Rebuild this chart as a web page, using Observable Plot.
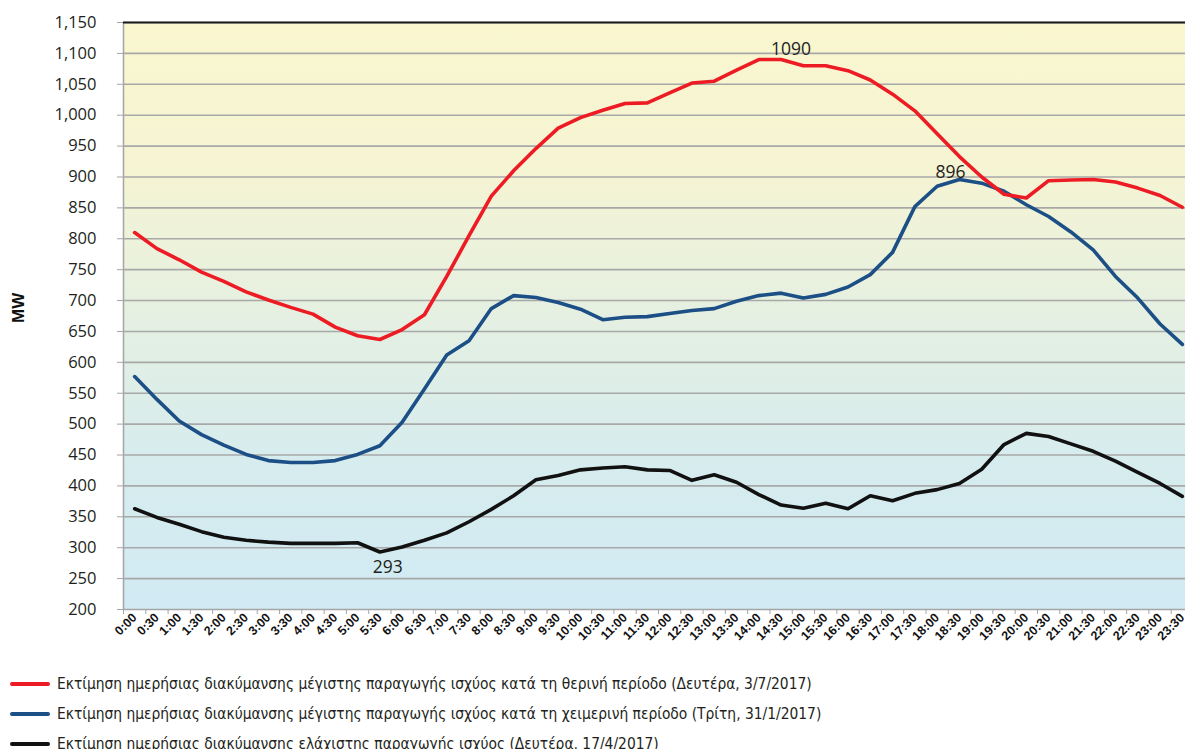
<!DOCTYPE html>
<html><head><meta charset="utf-8">
<script src="https://cdn.jsdelivr.net/npm/d3@7"></script>
<script src="https://cdn.jsdelivr.net/npm/@observablehq/plot@0.6"></script>
<style>
html,body{margin:0;padding:0;background:#fff;overflow:hidden;width:1185px;height:749px}
#chart{width:1200px;overflow:visible}
#chart svg{display:block;max-width:none !important;width:1200px}
#legend{position:absolute;left:0;top:669px;font-family:"Liberation Sans Narrow","DejaVu Sans Condensed","Liberation Sans",sans-serif;font-size:15.4px;color:#231f20}
.row{display:flex;align-items:center;height:30px;white-space:nowrap}
.sw{width:40px;height:4px;border-radius:2px;margin-left:10px;margin-right:7px;flex:none}
</style></head>
<body><div id="chart"></div><div id="legend"></div>
<script>
const times = ["0:00","0:30","1:00","1:30","2:00","2:30","3:00","3:30","4:00","4:30","5:00","5:30",
  "6:00","6:30","7:00","7:30","8:00","8:30","9:00","9:30","10:00","10:30","11:00","11:30",
  "12:00","12:30","13:00","13:30","14:00","14:30","15:00","15:30","16:00","16:30","17:00","17:30",
  "18:00","18:30","19:00","19:30","20:00","20:30","21:00","21:30","22:00","22:30","23:00","23:30"];
const summerMax = [810,784,766,746,731,714,701,689,678,657,643,637,653,677,739,805,869,910,946,979,996,1008,1019,1020,
  1036,1052,1055,1073,1090,1090,1080,1080,1072,1057,1034,1007,970,933,900,872,866,894,895,896,892,882,870,851];
const winterMax = [577,540,505,483,466,451,441,438,438,441,451,465,503,557,612,635,687,708,705,697,686,669,673,674,
  679,684,687,699,708,712,704,710,722,742,778,852,885,896,890,877,855,836,811,782,739,704,662,629];
const minimum = [363,349,338,326,317,312,309,307,307,307,308,293,301,312,324,342,362,384,410,417,426,429,431,426,
  425,409,418,406,386,369,364,372,363,384,376,388,394,404,427,467,485,480,468,456,440,422,404,383];
const yTicks = [200,250,300,350,400,450,500,550,600,650,700,750,800,850,900,950,1000,1050,1100,1150];
const seriesNames = [
  "Εκτίμηση ημερήσιας διακύμανσης μέγιστης παραγωγής ισχύος κατά τη θερινή περίοδο (Δευτέρα, 3/7/2017)",
  "Εκτίμηση ημερήσιας διακύμανσης μέγιστης παραγωγής ισχύος κατά τη χειμερινή περίοδο (Τρίτη, 31/1/2017)",
  "Εκτίμηση ημερήσιας διακύμανσης ελάχιστης παραγωγής ισχύος (Δευτέρα, 17/4/2017)"];
const seriesColors = ["#ed1c24","#1c4f86","#111111"];
const peakSummer = {time:"14:30", value:1090};
const peakWinter = {time:"18:30", value:896};
const lowMin = {time:"5:30", value:293};

const step = (1193-123)/48;
const lineOpts = (arr, c) => Plot.line(arr, {x:(d,i)=>times[i], y:d=>d, stroke:c, strokeWidth:3.6, strokeLinejoin:"round"});
const labelFont = {fontSize:17.5, fontFamily:"'Open Sans', sans-serif", fill:"#231f20"};

const chart = Plot.plot({
  width:1200, height:660,
  marginLeft:123, marginRight:7, marginTop:22, marginBottom:51,
  x:{type:"point", domain:times, padding:0.5, round:false},
  y:{domain:[200,1150]},
  style:{background:"transparent", fontFamily:"'Liberation Sans', Arial, sans-serif", maxWidth:"none"},
  marks:[
    Plot.frame({fill:"url(#bgGrad)", stroke:"#a5a5a5", strokeWidth:1.5}),
    Plot.ruleY(yTicks.filter(v=>v>200 && v<1150), {stroke:"#a8a8a8", strokeWidth:1.6}),
    Plot.ruleY([1150], {stroke:"#1a1a1a", strokeWidth:2}),
    Plot.axisY({ticks:yTicks, tickSize:6, tickPadding:21, tickFormat:d3.format(","), fontSize:16.5,
      fontFamily:"'Open Sans', sans-serif", stroke:"#a5a5a5", fill:"#231f20", label:null}),
    Plot.axisX({tickSize:5, tickFormat:()=>"", dx:-step/2, stroke:"#a5a5a5", label:null}),
    Plot.axisX({tickSize:0, tickPadding:6, tickRotate:-45, fontSize:12.5, fontWeight:"bold", fill:"#111", label:null}),
    Plot.text(["MW"], {frameAnchor:"left", dx:-105, dy:7, rotate:-90, fontWeight:"bold", fontSize:17, fill:"#111"}),
    lineOpts(minimum, seriesColors[2]),
    lineOpts(winterMax, seriesColors[1]),
    lineOpts(summerMax, seriesColors[0]),
    Plot.text([peakSummer], {x:"time", y:"value", text:d=>String(d.value), dx:10, dy:-10, ...labelFont}),
    Plot.text([peakWinter], {x:"time", y:"value", text:d=>String(d.value), dx:-9, dy:-7, ...labelFont}),
    Plot.text([lowMin], {x:"time", y:"value", text:d=>String(d.value), dx:8, dy:15, ...labelFont})
  ]
});
const svg = d3.select(chart);
const grad = svg.insert("defs", ":first-child").append("linearGradient")
  .attr("id","bgGrad").attr("x1",0).attr("y1",0).attr("x2",0).attr("y2",1);
grad.append("stop").attr("offset","0%").attr("stop-color","#faf7cf");
grad.append("stop").attr("offset","25%").attr("stop-color","#f5f4d3");
grad.append("stop").attr("offset","50%").attr("stop-color","#e5f0e2");
grad.append("stop").attr("offset","75%").attr("stop-color","#d6ecee");
grad.append("stop").attr("offset","100%").attr("stop-color","#d1eaf3");
document.getElementById("chart").appendChild(chart);

const legend = d3.select("#legend");
seriesNames.forEach((n,i)=>{
  const r = legend.append("div").attr("class","row");
  r.append("div").attr("class","sw").style("background", seriesColors[i]);
  r.append("span").attr("class","lt").text(n);
});
</script>
</body></html>
